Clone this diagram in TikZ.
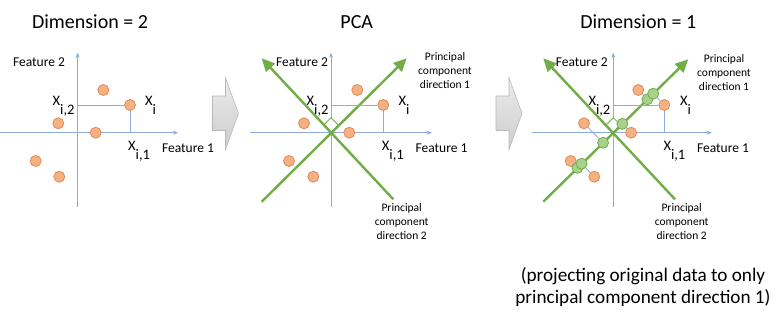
\documentclass[tikz,border=0pt]{standalone}
\usepackage{fontspec}
\setmainfont{Carlito}
\usetikzlibrary{calc, arrows.meta}
\definecolor{axisblue}{HTML}{8FAADC}
\definecolor{dotorange}{HTML}{F4B183}
\definecolor{dotorangeline}{HTML}{E58A50}
\definecolor{pcgreen}{HTML}{70AD47}
\definecolor{dotgreen}{HTML}{A9D18E}
\newcommand{\xsub}[1]{X\raisebox{-9pt}{#1}}
\tikzset{
	axisline/.style={
			draw=axisblue,
			line width=0.8pt,
			-{Stealth[length=5pt,width=4pt]}
		},
	guideline/.style={
			draw=axisblue,
			line width=0.8pt
		},
	pcline/.style={
			draw=pcgreen,
			line width=2.4pt,
			-{Triangle[length=13pt,width=12pt]}
		},
	datanode/.style={
			circle,
			draw=dotorangeline,
			fill=dotorange,
			line width=0.8pt,
			minimum size=11pt,
			inner sep=0pt
		},
	projnode/.style={
			datanode,
			draw=pcgreen,
			fill=dotgreen
		},
	rightmark/.style={
			draw=pcgreen,
			fill=white,
			line width=0.8pt
		},
	grayarrow/.style={
			draw=gray!55,
			top color=gray!15,
			bottom color=gray!40,
			line width=0.6pt
		},
	titletext/.style={font=\fontsize{20}{24}\selectfont},
	featuretext/.style={font=\fontsize{13.5}{16}\selectfont},
	xtext/.style={
			font=\fontsize{14.5}{16}\selectfont,
			anchor=base west,
			inner sep=0pt
		},
	pctext/.style={
			font=\fontsize{11.5}{14}\selectfont,
			align=center
		},
	notetext/.style={
			font=\fontsize{19.2}{22}\selectfont,
			align=center
		}
}

\begin{document}
\begin{tikzpicture}[x=1pt, y=-1pt]
\useasboundingbox (0,0) rectangle (781,316);

% origins of the three plots
\coordinate (o1) at (77.7,132.7);
\coordinate (o2) at (331,132.7);
\coordinate (o3) at (613.3,132.7);
\coordinate (e3) at ($(o3)+(75,-73.4)$);

% titles
\node[titletext] (t1) at (90,22) {Dimension = 2};
\node[titletext] (t2) at (356.7,22) {PCA};
\node[titletext] (t3) at (638.3,22) {Dimension = 1};

% axes
\draw[axisline] (o1) ++(-77.7,0) -- ++(178,0);
\draw[axisline] (o1) ++(0,74.3) -- ++(0,-154.3);
\draw[axisline] (o2) ++(-81,0) -- ++(181.7,0);
\draw[axisline] (o2) ++(0,74.3) -- ++(0,-154.3);
\draw[axisline] (o3) ++(-81.6,0) -- ++(180,0);
\draw[axisline] (o3) ++(0,74.3) -- ++(0,-154.3);

% right angle marks
\draw[rightmark] (o2) -- ++(7.5,-7.5) -- ++(-7.5,-7.5) -- ++(-7.5,7.5) -- cycle;
\draw[rightmark] (o3) -- ++(7.5,-7.5) -- ++(-7.5,-7.5) -- ++(-7.5,7.5) -- cycle;

% principal component directions
\draw[pcline] (o2) +(-69.3,69) -- +(75.7,-74.4);
\draw[pcline] (o2) +(62.3,66.6) -- +(-69.3,-74.4);
\draw[pcline] (o3) +(-70,69) -- (e3);
\draw[pcline] (o3) +(61.7,66.6) -- +(-70,-74.4);

% data points
\node[datanode] (a1) at (103.3,90) {};
\node[datanode] (a2) at (130,105) {};
\node[datanode] (a3) at (58.3,123.3) {};
\node[datanode] (a4) at (95.7,132.7) {};
\node[datanode] (a5) at (35.7,161) {};
\node[datanode] (a6) at (59.3,176.7) {};

\node[datanode] (b1) at (357.3,90) {};
\node[datanode] (b2) at (383.3,105) {};
\node[datanode] (b3) at (304,123.3) {};
\node[datanode] (b4) at (349.3,132.7) {};
\node[datanode] (b5) at (289,161) {};
\node[datanode] (b6) at (313.3,176.7) {};

\node[datanode] (c1) at (638.3,90) {};
\node[datanode] (c2) at (664.3,105) {};
\node[datanode] (c3) at (584,123.3) {};
\node[datanode] (c4) at (631,132.7) {};
\node[datanode] (c5) at (570.7,161) {};
\node[datanode] (c6) at (594.3,176.7) {};

% projections onto direction 1
\node[projnode] (q1) at ($(o3)!(c1)!(e3)$) {};
\node[projnode] (q2) at ($(o3)!(c2)!(e3)$) {};
\node[projnode] (q3) at ($(o3)!(c3)!(e3)$) {};
\node[projnode] (q4) at ($(o3)!(c4)!(e3)$) {};
\node[projnode] (q5) at ($(o3)!(c5)!(e3)$) {};
\node[projnode] (q6) at ($(o3)!(c6)!(e3)$) {};

\draw[guideline] (c1) -- (q1);
\draw[guideline] (c2) -- (q2);
\draw[guideline] (c3) -- (q3);
\draw[guideline] (c4) -- (q4);
\draw[guideline] (c5) -- (q5);
\draw[guideline] (c6) -- (q6);

% coordinates of x_i
\draw[guideline] (a2 -| o1) -- (a2) (a2) -- (a2 |- o1);
\draw[guideline] (b2 -| o2) -- (b2) (b2) -- (b2 |- o2);
\draw[guideline] (c2 -| o3) -- (c2) (c2) -- (c2 |- o3);

% labels
\node[featuretext] (f12) at (39,62) {Feature 2};
\node[featuretext] (f11) at (188,148) {Feature 1};
\node[xtext] (x12) at (52.5,105) {\xsub{i,2}};
\node[xtext] (x1i) at (145,105) {\xsub{i}};
\node[xtext] (x11) at (128,150) {\xsub{i,1}};

\node[featuretext] (f22) at (302,62) {Feature 2};
\node[featuretext] (f21) at (441.5,148) {Feature 1};
\node[xtext] (x22) at (306.5,105) {\xsub{i,2}};
\node[xtext] (x2i) at (398.3,105) {\xsub{i}};
\node[xtext] (x21) at (381.7,150) {\xsub{i,1}};
\node[pctext] (d21) at (445,71) {Principal\\component\\direction 1};
\node[pctext] (d22) at (401.7,222) {Principal\\component\\direction 2};

\node[featuretext] (f32) at (581.7,62) {Feature 2};
\node[featuretext] (f31) at (723,148) {Feature 1};
\node[xtext] (x32) at (588.3,105) {\xsub{i,2}};
\node[xtext] (x3i) at (680,105) {\xsub{i}};
\node[xtext] (x31) at (663.3,150) {\xsub{i,1}};
\node[pctext] (d31) at (724,73) {Principal\\component\\direction 1};
\node[pctext] (d32) at (681.7,222) {Principal\\component\\direction 2};

% step arrows
\draw[grayarrow] (212.5,96) -- (225.5,96) -- (225.5,78) -- (238.5,113.5)
  -- (225.5,149.5) -- (225.5,130.5) -- (212.5,130.5) -- cycle;
\draw[grayarrow] (496,96) -- (509,96) -- (509,78) -- (522,113.5)
  -- (509,149.5) -- (509,130.5) -- (496,130.5) -- cycle;

\node[notetext] (note) at (643,287) {(projecting original data to only\\principal component direction 1)};

\end{tikzpicture}
\end{document}
